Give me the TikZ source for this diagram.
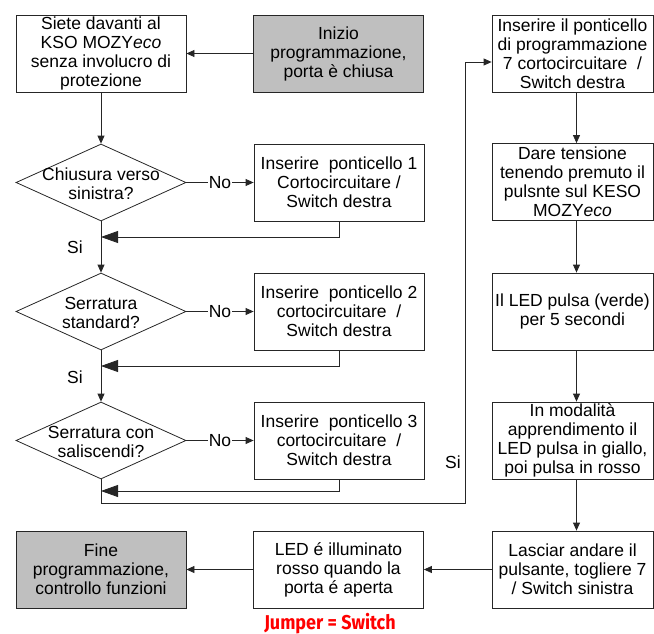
\documentclass[tikz,border=0pt]{standalone}
\usepackage{fontspec}
\setmainfont{Liberation Sans}
\newfontfamily\jumperfont[FakeStretch=0.9]{Fira Sans}
\usetikzlibrary{arrows.meta,shapes.geometric}
\tikzset{
  every node/.style={font=\fontsize{17.5}{19}\selectfont},
  box/.style={draw=black!85, line width=0.8pt, minimum width=170pt, minimum height=77pt, inner sep=0pt, align=center},
  rbox/.style={box, minimum width=161pt},
  gbox/.style={box, fill=black!25},
  dia/.style={diamond, draw=black!85, line width=0.8pt, minimum width=170pt, minimum height=77pt, inner sep=0pt},
  txt/.style={align=center, inner sep=0pt},
  lbl/.style={fill=white, inner sep=1pt},
  conn/.style={draw=black!85, line width=0.8pt},
  arr/.style={conn, -{Triangle[length=8pt,width=7pt]}},
  bigarr/.style={conn, -{Triangle[length=17pt,width=12pt]}}
}
\begin{document}
\begin{tikzpicture}
\useasboundingbox (0,0) rectangle (654pt,-634pt);
% left column
\node[box] (b1) at (101pt,-53.5pt) {Siete davanti al\\KSO MOZY\textit{eco}\\senza involucro di\\protezione};
\node[gbox] (start) at (338.5pt,-53.5pt) {Inizio\\programmazione,\\porta è chiusa};
\node[dia] (d1) at (101pt,-182.5pt) {};
\node[txt] (d1t) at (101pt,-184pt) {Chiusura verso\\sinistra?};
\node[dia] (d2) at (101pt,-311.5pt) {};
\node[txt] (d2t) at (101pt,-313pt) {Serratura\\standard?};
\node[dia] (d3) at (101pt,-440.5pt) {};
\node[txt] (d3t) at (101pt,-442pt) {Serratura con\\saliscendi?};
\node[box] (p1) at (339pt,-182.5pt) {Inserire\ \ ponticello 1\\Cortocircuitare /\\Switch destra};
\node[box] (p2) at (339pt,-311.5pt) {Inserire\ \ ponticello 2\\cortocircuitare\ \ /\\Switch destra};
\node[box] (p3) at (339pt,-440.5pt) {Inserire\ \ ponticello 3\\cortocircuitare\ \ /\\Switch destra};
% right column
\node[rbox] (r1) at (572.5pt,-53.5pt) {Inserire il ponticello\\di programmazione\\7 cortocircuitare\ \ /\\Switch destra};
\node[rbox] (r2) at (572.5pt,-182pt) {Dare tensione\\tenendo premuto il\\pulsnte sul KESO\\MOZY\textit{eco}};
\node[rbox] (r3) at (572.5pt,-311.5pt) {Il LED pulsa (verde)\\per 5 secondi};
\node[rbox] (r4) at (572.5pt,-440.5pt) {In modalità\\apprendimento il\\LED pulsa in giallo,\\poi pulsa in rosso};
\node[rbox] (r5) at (572.5pt,-569.5pt) {Lasciar andare il\\pulsante, togliere 7\\/ Switch sinistra};
\node[box] (led) at (338.5pt,-569.5pt) {LED é illuminato\\rosso quando la\\porta é aperta};
\node[gbox] (fine) at (101pt,-569.5pt) {Fine\\programmazione,\\controllo funzioni};
\node[font=\jumperfont\bfseries\fontsize{20}{22}\selectfont, text=red, inner sep=0pt] (jmp) at (330pt,-624pt) {Jumper = Switch};
% helper coordinates
\coordinate (rx) at (576.5pt,0);
\coordinate (j1) at (101pt,-237pt);
\coordinate (j2) at (101pt,-366pt);
\coordinate (j3) at (101pt,-491pt);
\coordinate (lp) at (465pt,-503pt);
% connectors
\draw[arr] (start.west) -- (b1.east);
\draw[arr] (b1.south) -- (d1.north);
\draw[arr] (d1.east) -- node[lbl] (no1) {No} (p1.west);
\draw[arr] (d2.east) -- node[lbl] (no2) {No} (p2.west);
\draw[arr] (d3.east) -- node[lbl] (no3) {No} (p3.west);
\draw[arr] (d1.south) -- (d2.north);
\draw[arr] (d2.south) -- (d3.north);
\node (si1) at (75pt,-247pt) {Si};
\node (si2) at (75pt,-377pt) {Si};
\draw[bigarr] (p1.south) |- (j1);
\draw[bigarr] (p2.south) |- (j2);
\draw[bigarr] (p3.south) |- (j3);
\draw[arr] (d3.south) |- (lp) -- ([yshift=-8.5pt]r1.west -| lp) -- ([yshift=-8.5pt]r1.west);
\node (si3) at (453pt,-462pt) {Si};
\draw[arr] (r1.south -| rx) -- (r2.north -| rx);
\draw[arr] (r2.south -| rx) -- (r3.north -| rx);
\draw[arr] (r3.south -| rx) -- (r4.north -| rx);
\draw[arr] (r4.south -| rx) -- (r5.north -| rx);
\draw[arr] (r5.west) -- (led.east);
\draw[arr] (led.west) -- (fine.east);
\end{tikzpicture}
\end{document}
